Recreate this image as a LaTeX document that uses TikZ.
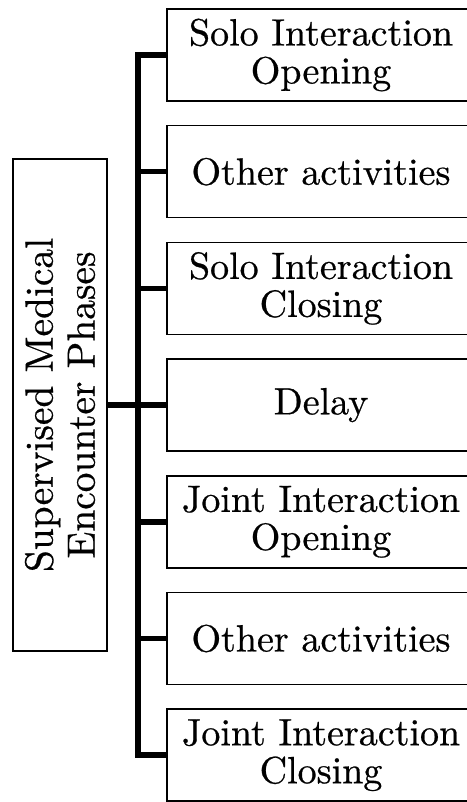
\documentclass[tikz,border=0pt]{standalone}
\usepackage{fontspec}
\newfontfamily\boxfont{lmroman10-regular.otf}[FakeBold=0.6]
\begin{document}
\begin{tikzpicture}[x=1pt,y=1pt,
  rbox/.style={draw=black,line width=1.6pt,minimum width=308pt,minimum height=92pt,inner sep=0pt,align=center,font=\boxfont\fontsize{38}{38}\selectfont},
  lbox/.style={draw=black,line width=1.6pt,minimum width=492pt,minimum height=94pt,inner sep=0pt,align=center,rotate=90,font=\boxfont\fontsize{39.4}{42}\selectfont},
  conn/.style={line width=5.5pt,line join=miter,line cap=butt}]
\useasboundingbox (0,0) rectangle (466,802);
\node[lbox] (L) at (60,397) {Supervised Medical\\Encounter Phases};
\node[rbox] (B1) at (321,747) {Solo Interaction\\Opening};
\node[rbox] (B2) at (321,630.3) {Other activities};
\node[rbox] (B3) at (321,513.6) {Solo Interaction\\Closing};
\node[rbox] (B4) at (321,396.9) {Delay};
\node[rbox] (B5) at (321,280.2) {Joint Interaction\\Opening};
\node[rbox] (B6) at (321,163.5) {Other activities};
\node[rbox] (B7) at (321,46.8) {Joint Interaction\\Closing};
\coordinate (tr) at (138,0);
\draw[conn] (B1.west) -- (B1.west -| tr) -- (B7.west -| tr) -- (B7.west);
\draw[conn] (B2.west) -- (B2.west -| tr);
\draw[conn] (B3.west) -- (B3.west -| tr);
\draw[conn] (B4.west) -- (B4.west -| tr);
\draw[conn] (B5.west) -- (B5.west -| tr);
\draw[conn] (B6.west) -- (B6.west -| tr);
\draw[conn] (L.south) -- (L.south -| tr);
\end{tikzpicture}
\end{document}
